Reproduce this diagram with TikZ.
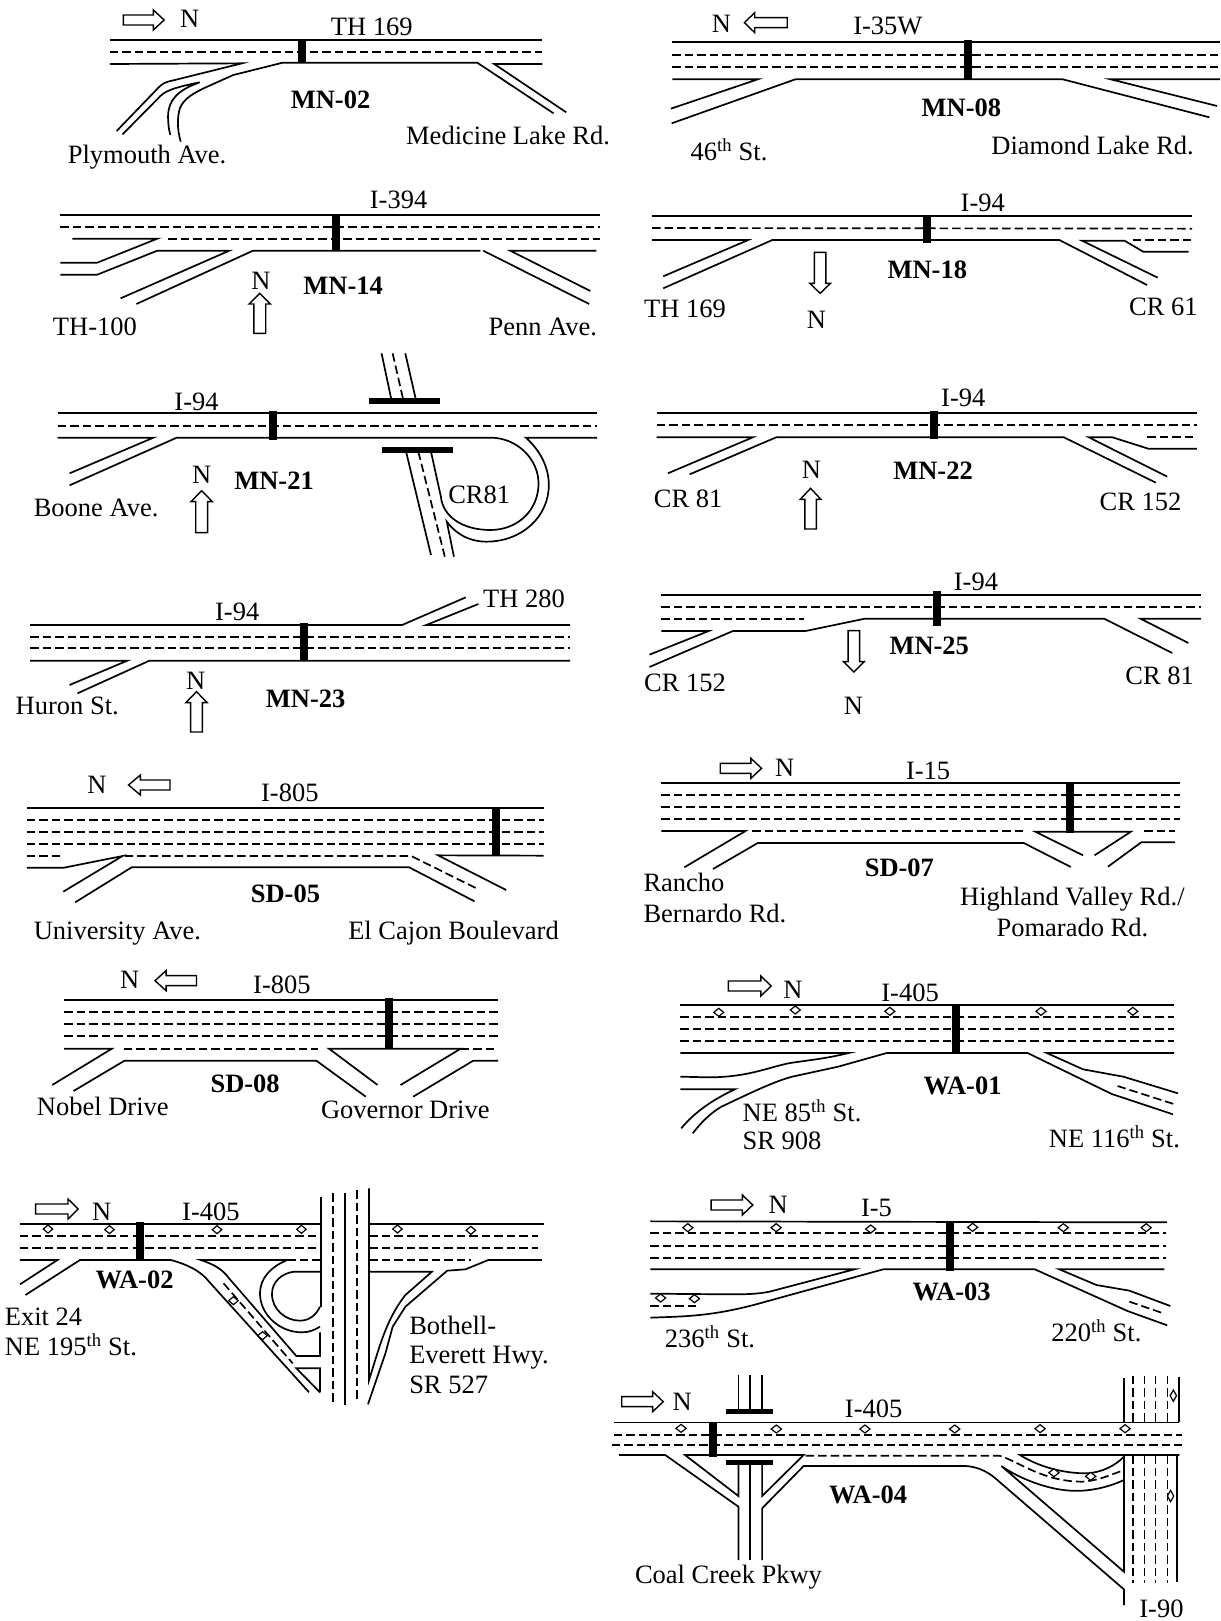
\documentclass[tikz,border=0pt]{standalone}
\usepackage{fontspec}
\setmainfont{Liberation Serif}
\tikzset{
  road/.style={line width=1.7pt,line join=miter,black},
  lane/.style={line width=1.7pt,dash pattern=on 8.5pt off 4pt,black},
  stn/.style={line width=8pt,black},
  lab/.style={inner sep=0pt,font=\fontsize{26.5}{31}\selectfont,black},
  code/.style={inner sep=0pt,font=\fontsize{26.5}{31}\selectfont\bfseries,black},
  dia/.style={line width=1.2pt,fill=white,draw=black},
  cropA/.style={x=.3954pt,y=-.33333pt},
  cropB/.style={x=.3827pt,y=-.33333pt},
  cropC/.style={x=.3636pt,y=-.33333pt},
  cropD/.style={x=.3891pt,y=-.33333pt}
}
% block arrows: from, to, head base, centre line
\newcommand\hArrow[4]{\draw[road,line width=1.4pt] (#1,#4-15)--(#3,#4-15)--(#3,#4-30)--(#2,#4)--(#3,#4+30)--(#3,#4+15)--(#1,#4+15)--cycle;}
\newcommand\vArrow[4]{\draw[road,line width=1.4pt] (#4-15,#1)--(#4-15,#3)--(#4-27,#3)--(#4,#2)--(#4+27,#3)--(#4+15,#3)--(#4+15,#1)--cycle;}
\newcommand\dmd[2]{\draw[dia] (#1-13,#2)--(#1,#2-12)--(#1+13,#2)--(#1,#2+12)--cycle;}
\newcommand\dmdv[2]{\draw[dia] (#1-8,#2)--(#1,#2-17)--(#1+8,#2)--(#1,#2+17)--cycle;}
\begin{document}
\begin{tikzpicture}[x=1pt,y=1pt]
\path[use as bounding box] (0,0) rectangle (1220,-1621);

% ---------- crop 1
\begin{scope}[shift={(0pt,0pt)},cropA]
% MN-02
\draw[road] (278,120)--(1372,120);
\draw[lane] (278,157)--(1372,157);
\draw[road] (278,192)--(612,190)--(425,245) .. controls (410,250) and (405,258) .. (395,270)--(295,393);
\draw[road] (310,403)--(400,295) .. controls (415,275) and (430,265) .. (505,247) .. controls (450,270) and (425,300) .. (425,350) .. controls (425,370) and (427,390) .. (431,405);
\draw[road] (457,425) .. controls (448,390) and (448,350) .. (455,325) .. controls (465,295) and (490,280) .. (515,265)--(590,225)--(715,188)--(1207,188)--(1400,340);
\draw[road] (1372,192)--(1250,192)--(1432,337);
\draw[stn] (765,122)--(765,190);
\hArrow{312}{415}{388}{60}
\node[lab] (n02) at (480,55) {N};
\node[lab] (h02) at (940,82) {TH 169};
\node[code] (c02) at (836,298) {MN-02};
\node[lab] (r02a) at (1285,405) {Medicine Lake Rd.};
\node[lab] (r02b) at (372,472) {Plymouth Ave.};
% MN-14
\draw[road] (153,645)--(1518,645);
\draw[lane] (153,680)--(1518,680);
\draw[lane] (425,716)--(1518,716);
\draw[road] (183,716)--(398,716)--(246,788)--(153,788);
\draw[road] (153,824)--(246,824)--(398,752)--(580,752)--(305,895);
\draw[road] (345,912)--(640,752)--(1215,752);
\draw[road] (1222,752)--(1490,912);
\draw[road] (1508,752)--(1290,752)--(1493,873);
\draw[stn] (851,647)--(851,752);
\vArrow{1000}{880}{912}{657}
\node[lab] (h14) at (1008,600) {I-394};
\node[lab] (n14) at (660,842) {N};
\node[code] (c14) at (868,858) {MN-14};
\node[lab] (r14a) at (240,980) {TH-100};
\node[lab] (r14b) at (1373,982) {Penn Ave.};
\end{scope}

% ---------- crop 2
\begin{scope}[shift={(620pt,0pt)},cropB]
% MN-08
\draw[road] (137,127)--(1568,127);
\draw[lane] (137,165)--(1568,165);
\draw[lane] (137,202)--(1568,202);
\draw[road] (137,238)--(360,238)--(133,326);
\draw[road] (135,370)--(458,238)--(1157,238)--(1540,352);
\draw[road] (1568,238)--(1282,238)--(1560,318);
\draw[stn] (908,120)--(908,240);
\hArrow{437}{325}{352}{68}
\node[lab] (n08) at (265,70) {N};
\node[lab] (h08) at (700,78) {I-35W};
\node[code] (c08) at (892,322) {MN-08};
\node[lab] (r08a) at (285,448) {46\textsuperscript{th} St.};
\node[lab] (r08b) at (1235,437) {Diamond Lake Rd.};
% MN-18
\draw[road] (84,649)--(1495,649);
\draw[lane] (84,684)--(1495,686);
\draw[road] (84,720)--(335,720)--(113,829);
\draw[road] (113,865)--(398,720)--(1148,720)--(1377,855);
\draw[road] (1405,833)--(1207,722)--(1318,722)--(1367,755)--(1486,755);
\draw[lane] (1340,720)--(1495,720);
\draw[stn] (802,647)--(802,730);
\vArrow{757}{880}{850}{523}
\node[lab] (h18) at (948,610) {I-94};
\node[code] (c18) at (803,810) {MN-18};
\node[lab] (n18) at (513,958) {N};
\node[lab] (r18a) at (170,927) {TH 169};
\node[lab] (r18b) at (1420,922) {CR 61};
\end{scope}

% ---------- crop 3
\begin{scope}[shift={(0pt,-340pt)},cropA]
% MN-21
\draw[road] (146,220)--(1510,220);
\draw[lane] (146,257)--(1510,257);
\draw[road] (146,293)--(388,293)--(176,400);
\draw[road] (176,436)--(447,293)--(1240,293) .. controls (1310,293) and (1362,360) .. (1362,430) .. controls (1362,510) and (1310,570) .. (1240,570) .. controls (1170,570) and (1120,530) .. (1115,470)--(1090,335);
\draw[road] (1510,293)--(1330,293) .. controls (1365,330) and (1388,380) .. (1388,435) .. controls (1388,530) and (1320,605) .. (1230,605) .. controls (1190,605) and (1155,585) .. (1130,545)--(1148,650);
\draw[road] (1027,335)--(1090,645);
\draw[lane] (1058,335)--(1125,650);
\draw[road] (965,40)--(990,180);
\draw[lane] (993,40)--(1020,180);
\draw[road] (1025,40)--(1052,180);
\draw[stn,line width=6pt] (933,184)--(1114,184);
\draw[stn,line width=6pt] (965,329)--(1145,329);
\draw[stn] (690,213)--(690,300);
\vArrow{578}{452}{485}{510}
\node[lab] (h21) at (497,187) {I-94};
\node[lab] (n21) at (510,405) {N};
\node[code] (c21) at (693,422) {MN-21};
\node[lab] (r21a) at (243,503) {Boone Ave.};
\node[lab] (r21b) at (1212,465) {CR81};
% MN-23
\draw[road] (76,855)--(1017,855)--(1178,772);
\draw[road] (1210,792)--(1078,855)--(1442,855);
\draw[lane] (76,890)--(1442,890);
\draw[lane] (76,925)--(1442,925);
\draw[road] (76,962)--(322,962)--(176,1035);
\draw[road] (196,1060)--(378,962)--(1442,962);
\draw[stn] (770,848)--(770,962);
\vArrow{1176}{1055}{1088}{497}
\node[lab] (h23) at (600,815) {I-94};
\node[lab] (r23a) at (1325,775) {TH 280};
\node[lab] (n23) at (495,1022) {N};
\node[code] (c23) at (773,1077) {MN-23};
\node[lab] (r23b) at (170,1097) {Huron St.};
\end{scope}

% ---------- crop 4
\begin{scope}[shift={(620pt,-340pt)},cropB]
% MN-22
\draw[road] (96,218)--(1507,218);
\draw[lane] (96,255)--(1507,255);
\draw[road] (96,292)--(347,292)--(125,400);
\draw[road] (182,403)--(408,292)--(1160,292)--(1400,428);
\draw[road] (1430,410)--(1225,292)--(1287,292)--(1380,326)--(1507,326);
\draw[lane] (1378,292)--(1507,292);
\draw[stn] (820,214)--(820,296);
\vArrow{567}{445}{478}{498}
\node[lab] (h22) at (897,173) {I-94};
\node[lab] (n22) at (500,390) {N};
\node[code] (c22) at (818,392) {MN-22};
\node[lab] (r22a) at (178,475) {CR 81};
\node[lab] (r22b) at (1360,485) {CR 152};
% MN-25
\draw[road] (108,764)--(1518,764);
\draw[lane] (108,800)--(1518,800);
\draw[lane] (108,836)--(482,836);
\draw[road] (108,873)--(232,873)--(77,944);
\draw[road] (77,981)--(295,873)--(485,873)--(640,836)--(1265,836)--(1443,939);
\draw[road] (1518,836)--(1360,836)--(1485,909);
\draw[stn] (828,752)--(828,857);
\vArrow{872}{996}{965}{611}
\node[lab] (h25) at (930,727) {I-94};
\node[code] (c25) at (808,918) {MN-25};
\node[lab] (n25) at (610,1097) {N};
\node[lab] (r25a) at (170,1030) {CR 152};
\node[lab] (r25b) at (1410,1008) {CR 81};
\end{scope}

% ---------- crop 5
\begin{scope}[shift={(0pt,-740pt)},cropA]
% SD-05
\draw[road] (68,203)--(1375,203);
\draw[lane] (68,240)--(1375,240);
\draw[lane] (68,275)--(1375,275);
\draw[lane] (68,311)--(1375,311);
\draw[lane] (68,348)--(160,348);
\draw[road] (68,383)--(162,383)--(310,348)--(160,455);
\draw[lane] (315,348)--(1040,348)--(1210,448);
\draw[road] (190,487)--(333,382)--(1035,382)--(1200,484);
\draw[road] (1375,347)--(1108,346)--(1280,450);
\draw[stn] (1255,200)--(1255,345);
\hArrow{430}{325}{355}{135}
\node[lab] (n05) at (245,135) {N};
\node[lab] (h05) at (733,158) {I-805};
\node[code] (c05) at (722,460) {SD-05};
\node[lab] (r05a) at (297,580) {University Ave.};
\node[lab] (r05b) at (1147,580) {El Cajon Boulevard};
% SD-08
\draw[road] (162,781)--(1260,781);
\draw[lane] (162,817)--(1260,817);
\draw[lane] (162,853)--(1260,853);
\draw[lane] (162,888)--(1260,888);
\draw[road] (162,926)--(283,926)--(132,1035);
\draw[lane] (313,926)--(805,926);
\draw[road] (186,1053)--(315,962)--(800,962)--(925,1070);
\draw[road] (955,1035)--(832,926)--(1165,926)--(1013,1035);
\draw[lane] (1165,926)--(1255,926);
\draw[road] (1045,1070)--(1197,962)--(1260,962);
\draw[stn] (985,773)--(985,926);
\hArrow{497}{392}{420}{722}
\node[lab] (n08s) at (328,720) {N};
\node[lab] (h08s) at (713,733) {I-805};
\node[code] (c08s) at (620,1030) {SD-08};
\node[lab] (r08sa) at (260,1100) {Nobel Drive};
\node[lab] (r08sb) at (1025,1110) {Governor Drive};
\end{scope}

% ---------- crop 6
\begin{scope}[shift={(620pt,-740pt)},cropB]
% SD-07
\draw[road] (108,129)--(1462,129);
\draw[lane] (108,165)--(1462,165);
\draw[lane] (108,201)--(1462,201);
\draw[lane] (108,237)--(1462,237);
\draw[road] (108,273)--(328,273)--(168,382);
\draw[lane] (345,273)--(1060,273);
\draw[road] (243,387)--(360,309)--(1055,309)--(1178,381);
\draw[road] (1210,346)--(1085,275)--(1335,275)--(1240,346);
\draw[lane] (1370,272)--(1450,272);
\draw[road] (1275,380)--(1362,307)--(1450,307);
\draw[stn] (1177,126)--(1177,278);
\hArrow{262}{370}{342}{85}
\node[lab] (n07) at (430,82) {N};
\node[lab] (h07) at (805,92) {I-15};
\node[code] (c07) at (730,382) {SD-07};
\node[lab,align=left] (r07a) at (248,474) {Rancho\\Bernardo Rd.};
\node[lab,align=center] (r07b) at (1182,515) {Highland Valley Rd./\\Pomarado Rd.};
% WA-01
\draw[road] (158,794)--(1448,794);
\draw[lane] (158,830)--(1448,830);
\draw[lane] (158,866)--(1448,866);
\draw[lane] (158,902)--(1448,902);
\draw[road] (158,939)--(598,939) .. controls (530,958) and (480,962) .. (440,970) .. controls (380,985) and (330,1012) .. (230,1012)--(158,1010);
\draw[road] (158,1048)--(300,1048) .. controls (250,1075) and (200,1110) .. (160,1165);
\draw[road] (190,1180) .. controls (210,1150) and (235,1120) .. (265,1100) .. controls (330,1065) and (400,1025) .. (450,1010)--(570,980)--(697,939)--(1065,939)--(1285,1062)--(1445,1123);
\draw[road] (1448,939)--(1115,939)--(1210,988)--(1315,1010)--(1458,1060);
\draw[lane] (1300,1038)--(1455,1095);
\draw[stn] (878,797)--(878,939);
\dmd{258}{817}\dmd{458}{810}\dmd{705}{814}\dmd{1100}{814}\dmd{1340}{814}
\hArrow{283}{395}{368}{738}
\node[lab] (n01) at (452,748) {N};
\node[lab] (h01) at (758,757) {I-405};
\node[code] (c01) at (895,1037) {WA-01};
\node[lab,anchor=west] (r01a) at (320,1112) {NE 85\textsuperscript{th} St.};
\node[lab,anchor=west] (r01b) at (320,1201) {SR 908};
\node[lab] (r01c) at (1292,1190) {NE 116\textsuperscript{th} St.};
\end{scope}

% ---------- crop 7
\begin{scope}[shift={(0pt,-1170pt)},cropC]
% WA-02
\draw[road] (55,161)--(880,161);
\draw[road] (1016,161)--(1495,161);
\draw[lane] (55,198)--(875,198);
\draw[lane] (55,235)--(880,235);
\draw[lane] (1016,198)--(1480,198);
\draw[lane] (1016,235)--(1480,235);
\draw[road] (55,270)--(158,270)--(55,343);
\draw[road] (70,375)--(220,270)--(470,270) .. controls (510,282) and (550,300) .. (575,335)--(850,667);
\draw[road] (790,270)--(552,270) .. controls (585,282) and (610,295) .. (630,325)--(815,558)--(880,558)--(880,487);
\draw[road] (880,667)--(815,595)--(880,595)--(880,667);
\draw[lane] (790,270)--(880,270);
\draw[road] (790,270) .. controls (745,290) and (715,325) .. (715,370) .. controls (715,435) and (770,487) .. (830,487) .. controls (850,487) and (865,480) .. (880,470);
\draw[road] (880,305)--(808,305) .. controls (775,310) and (748,335) .. (748,372) .. controls (748,418) and (785,452) .. (825,452) .. controls (850,452) and (870,435) .. (880,410);
\draw[lane] (615,340)--(805,580);
\dmd{642}{392}\dmd{722}{497}
\draw[road] (882,80)--(882,410);
\draw[lane] (915,70)--(915,705);
\draw[road] (948,70)--(948,705);
\draw[lane] (982,60)--(982,695);
\draw[road] (1015,55)--(1015,630) .. controls (1040,545) and (1060,450) .. (1115,375)--(1188,305)--(1016,305);
\draw[road] (1012,703)--(1060,550)--(1080,470)--(1115,410)--(1230,302)--(1280,298)--(1343,270)--(1490,270);
\draw[lane] (1016,270)--(1295,270);
\draw[stn] (386,155)--(386,270);
\dmd{132}{177}\dmd{301}{179}\dmd{597}{179}\dmd{829}{178}\dmd{1093}{177}\dmd{1295}{181}
\hArrow{98}{215}{187}{117}
\node[lab] (n02w) at (280,125) {N};
\node[lab] (h02w) at (580,125) {I-405};
\node[code] (c02w) at (370,330) {WA-02};
\node[lab,anchor=west] (r02wa) at (13,440) {Exit 24};
\node[lab,anchor=west] (r02wb) at (13,525) {NE 195\textsuperscript{th} St.};
\node[lab,anchor=west] (r02wc) at (1125,466) {Bothell-};
\node[lab,anchor=west] (r02wd) at (1125,562) {Everett Hwy.};
\node[lab,anchor=west] (r02we) at (1125,645) {SR 527};
\end{scope}

% ---------- crop 8
\begin{scope}[shift={(610pt,-1180pt)},cropD]
% WA-03
\draw[road] (104,124)--(1432,127);
\draw[lane] (104,160)--(1428,160);
\draw[lane] (104,197)--(1428,197);
\draw[lane] (104,233)--(1428,233);
\draw[road] (104,341)--(310,343) .. controls (350,343) and (380,342) .. (410,335)--(628,268)--(104,268);
\draw[lane] (104,377)--(230,377);
\draw[road] (104,413)--(150,411) .. controls (220,408) and (290,402) .. (400,365)--(702,268)--(1092,268)--(1330,393)--(1432,436);
\draw[road] (1425,268)--(1155,268)--(1250,315)--(1335,332)--(1440,378);
\draw[lane] (1335,365)--(1422,400);
\draw[stn] (875,122)--(875,273);
\dmd{200}{143}\dmd{427}{143}\dmd{670}{147}\dmd{932}{142}\dmd{1165}{143}\dmd{1378}{143}\dmd{130}{354}\dmd{217}{356}
\hArrow{260}{367}{340}{75}
\node[lab] (n03) at (432,75) {N};
\node[lab] (h03) at (685,85) {I-5};
\node[code] (c03) at (878,335) {WA-03};
\node[lab] (r03a) at (257,470) {236\textsuperscript{th} St.};
\node[lab] (r03b) at (1250,452) {220\textsuperscript{th} St.};
\end{scope}

% ---------- crop 9
\begin{scope}[shift={(600pt,-1360pt)},cropA]
% WA-04
\draw[road] (35,187)--(1465,187);
\draw[lane] (35,225)--(1473,225);
\draw[lane] (30,255)--(1473,255);
\draw[road] (48,285)--(165,285)--(350,440)--(350,600);
\draw[road] (350,315)--(350,408)--(215,285)--(515,285)--(410,408)--(410,315);
\draw[road] (380,315)--(380,600);
\draw[road] (410,600)--(410,445)--(515,318)--(925,318) .. controls (950,320) and (975,330) .. (1000,355)--(1325,688)--(1325,735);
\draw[road] (350,45)--(350,155);
\draw[road] (380,45)--(380,155);
\draw[road] (410,45)--(410,155);
\draw[stn,line width=5pt] (318,155)--(438,155);
\draw[stn,line width=5pt] (318,308)--(438,308);
\draw[lane] (520,287)--(1010,287) .. controls (1060,305) and (1120,365) .. (1220,365) .. controls (1260,362) and (1290,345) .. (1325,330);
\draw[road] (1465,285)--(1062,285) .. controls (1110,320) and (1170,340) .. (1230,340) .. controls (1270,338) and (1305,315) .. (1325,290);
\draw[road] (1325,360) .. controls (1280,385) and (1230,395) .. (1190,392) .. controls (1130,388) and (1060,355) .. (1015,318)--(1325,635)--(1325,285);
\draw[road] (1325,55)--(1325,187);
\draw[road] (1465,50)--(1465,187);
\draw[road] (1460,285)--(1460,665);
\foreach \xx in {1348,1377,1405,1435}{
  \draw[lane] (\xx,47)--(\xx,187);
  \draw[lane] (\xx,285)--(\xx,670);
}
\draw[stn] (287,185)--(287,290);
\dmd{205}{205}\dmd{446}{207}\dmd{670}{207}\dmd{897}{207}\dmd{1113}{206}\dmd{1328}{206}\dmd{1148}{338}\dmd{1241}{349}
\dmdv{1450}{107}\dmdv{1443}{408}
\hArrow{55}{160}{133}{125}
\node[lab] (n04) at (208,125) {N};
\node[lab] (h04) at (692,145) {I-405};
\node[code] (c04) at (678,405) {WA-04};
\node[lab] (r04a) at (325,652) {Coal Creek Pkwy};
\node[lab] (r04b) at (1420,745) {I-90};
\end{scope}
\end{tikzpicture}
\end{document}
